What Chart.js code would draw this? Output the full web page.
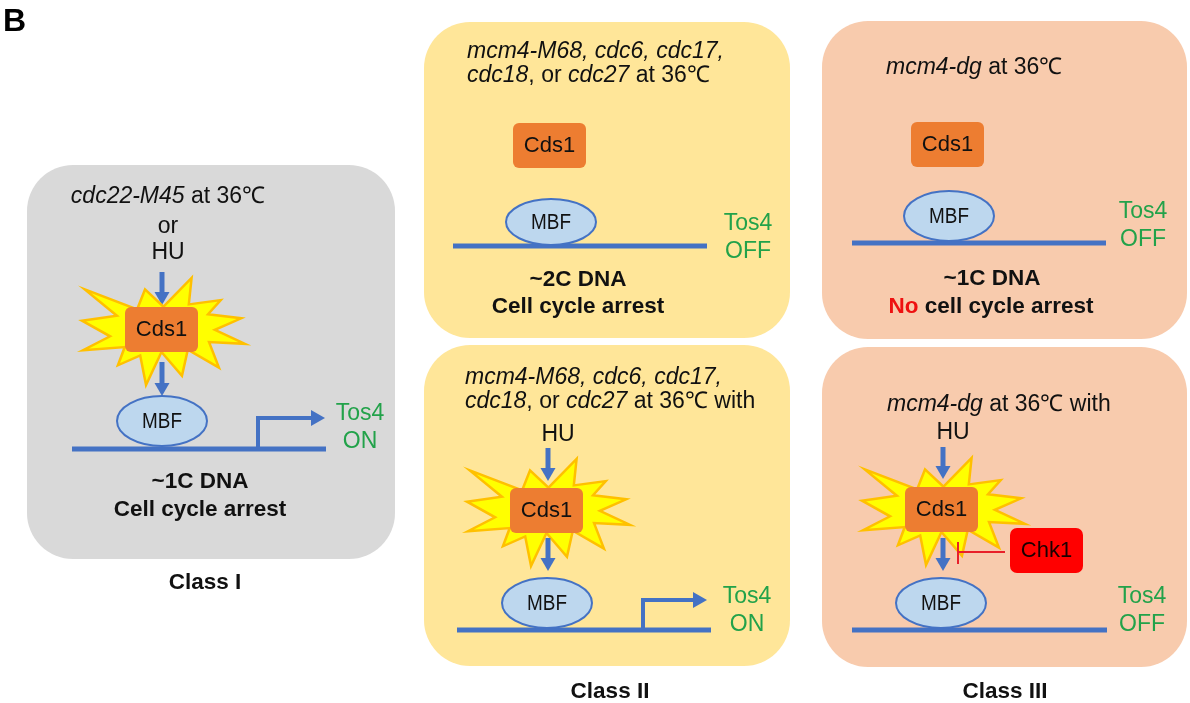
<!DOCTYPE html>
<html>
<head>
<meta charset="utf-8">
<script src="https://cdn.jsdelivr.net/npm/chart.js@4.4.1/dist/chart.umd.min.js"></script>
<style>
  html, body { margin: 0; padding: 0; background: #fff; }
  canvas { display: block; }
</style>
</head>
<body>
<canvas id="diagram" width="1190" height="703"></canvas>
<script>
// content of the figure
const panelLabel = 'B';
const classNames = ['Class I', 'Class II', 'Class III'];
const mutants = [
  [['cdc22-M45', 'i'], [' at 36\u2103', 'n']],
  [['mcm4-M68, cdc6, cdc17,', 'i']],
  [['cdc18', 'i'], [', or ', 'n'], ['cdc27', 'i'], [' at 36\u2103', 'n']],
  [['cdc18', 'i'], [', or ', 'n'], ['cdc27', 'i'], [' at 36\u2103 with', 'n']],
  [['mcm4-dg', 'i'], [' at 36\u2103', 'n']],
  [['mcm4-dg', 'i'], [' at 36\u2103 with', 'n']]
];
const tos4States = ['ON', 'OFF', 'ON', 'OFF', 'OFF'];
const dnaContent = ['~1C DNA', '~2C DNA', '~1C DNA'];
const arrestText = ['Cell cycle arrest', 'Cell cycle arrest', 'cell cycle arrest'];

const FONT = '"Liberation Sans", Arial, sans-serif';
const BLUE = '#4472c4';
const GREEN = '#22a24a';
const TXT = 23;     // condition text
const BOLD = 22.5;  // outcome and class labels

// PowerPoint "explosion 1" outline, in 21600 units
const sealPts = [
  [10800,5800],[14522,0],[14155,5325],[18380,4457],[16702,7315],[21097,8137],
  [17607,10475],[21600,13290],[16837,12942],[18145,18095],[14020,14457],[13247,19737],
  [10532,14935],[8485,21600],[7715,15627],[4762,17617],[5667,13937],[135,14587],
  [3722,11775],[0,8615],[4627,7617],[370,2295],[7312,6320],[8352,2295]
];

const diagramPlugin = {
  id: 'diagram',
  beforeDatasetsDraw(chart) {
    const ctx = chart.ctx;
    const xs = chart.scales.x, ys = chart.scales.y;
    const X = v => xs.getPixelForValue(v);
    const Y = v => ys.getPixelForValue(v);

    function roundRect(x, y, w, h, r, fill) {
      ctx.beginPath();
      ctx.roundRect(X(x), Y(y), X(x + w) - X(x), Y(y + h) - Y(y), r);
      ctx.fillStyle = fill;
      ctx.fill();
    }

    function text(str, x, y, opts) {
      opts = opts || {};
      ctx.font = (opts.bold ? 'bold ' : '') + (opts.size || TXT) + 'px ' + FONT;
      ctx.fillStyle = opts.color || '#111';
      ctx.textAlign = opts.align || 'center';
      ctx.textBaseline = 'middle';
      ctx.fillText(str, X(x), Y(y));
    }

    function runs(parts, x, y, align, size, bold) {
      size = size || TXT;
      const fontOf = p => (p[1] === 'i' ? 'italic ' : '') + (bold ? 'bold ' : '') + size + 'px ' + FONT;
      let total = 0;
      parts.forEach(p => { ctx.font = fontOf(p); total += ctx.measureText(p[0]).width; });
      let cx = align === 'center' ? X(x) - total / 2 : X(x);
      ctx.textAlign = 'left';
      ctx.textBaseline = 'middle';
      parts.forEach(p => {
        ctx.font = fontOf(p);
        ctx.fillStyle = p[2] || '#111';
        ctx.fillText(p[0], cx, Y(y));
        cx += ctx.measureText(p[0]).width;
      });
    }

    function downArrow(x, y1, y2) {
      ctx.strokeStyle = BLUE;
      ctx.fillStyle = BLUE;
      ctx.lineWidth = 5;
      ctx.beginPath();
      ctx.moveTo(X(x), Y(y1));
      ctx.lineTo(X(x), Y(y2 - 11));
      ctx.stroke();
      ctx.beginPath();
      ctx.moveTo(X(x - 7.5), Y(y2 - 13));
      ctx.lineTo(X(x + 7.5), Y(y2 - 13));
      ctx.lineTo(X(x), Y(y2));
      ctx.closePath();
      ctx.fill();
    }

    function burst(bx, by) {
      const x0 = bx - 43, y0 = by - 29, w = 163, h = 107;
      ctx.beginPath();
      sealPts.forEach((p, i) => {
        const px = X(x0 + p[0] / 21600 * w), py = Y(y0 + p[1] / 21600 * h);
        if (i === 0) ctx.moveTo(px, py); else ctx.lineTo(px, py);
      });
      ctx.closePath();
      ctx.fillStyle = '#ffff00';
      ctx.fill();
      ctx.strokeStyle = '#ffc000';
      ctx.lineWidth = 2.5;
      ctx.lineJoin = 'miter';
      ctx.stroke();
    }

    function cds1(bx, by) {
      roundRect(bx, by, 73, 45, 6, '#ed7d31');
      text('Cds1', bx + 36.5, by + 23, { size: 22 });
    }

    function mbf(cx, cy, ry) {
      ctx.beginPath();
      ctx.ellipse(X(cx), Y(cy), X(cx + 45) - X(cx), Y(cy + ry) - Y(cy), 0, 0, Math.PI * 2);
      ctx.fillStyle = '#bdd7ee';
      ctx.fill();
      ctx.strokeStyle = BLUE;
      ctx.lineWidth = 2;
      ctx.stroke();
      // label is a little condensed in the original
      ctx.save();
      ctx.translate(X(cx), Y(cy + 1));
      ctx.scale(0.86, 1);
      ctx.font = '22px ' + FONT;
      ctx.fillStyle = '#111';
      ctx.textAlign = 'center';
      ctx.textBaseline = 'middle';
      ctx.fillText('MBF', 0, 0);
      ctx.restore();
    }

    function dna(x1, x2, y) {
      ctx.strokeStyle = BLUE;
      ctx.lineWidth = 5;
      ctx.lineCap = 'butt';
      ctx.beginPath();
      ctx.moveTo(X(x1), Y(y));
      ctx.lineTo(X(x2), Y(y));
      ctx.stroke();
    }

    function promoter(x, yBase, yTop, xTip) {
      ctx.strokeStyle = BLUE;
      ctx.fillStyle = BLUE;
      ctx.lineWidth = 4;
      ctx.beginPath();
      ctx.moveTo(X(x), Y(yBase));
      ctx.lineTo(X(x), Y(yTop));
      ctx.lineTo(X(xTip - 12), Y(yTop));
      ctx.stroke();
      ctx.beginPath();
      ctx.moveTo(X(xTip - 14), Y(yTop - 8));
      ctx.lineTo(X(xTip), Y(yTop));
      ctx.lineTo(X(xTip - 14), Y(yTop + 8));
      ctx.closePath();
      ctx.fill();
    }

    function tos4(x, y, state) {
      text('Tos4', x, y, { size: 23, color: GREEN });
      text(state, x, y + 28, { size: 23, color: GREEN });
    }

    ctx.save();
    ctx.fillStyle = '#fff';
    ctx.fillRect(0, 0, chart.width, chart.height);

    text(panelLabel, 3, 22, { size: 32, bold: true, align: 'left', color: '#000' });

    // panels
    roundRect(27, 165, 368, 394, 46, '#d9d9d9');
    roundRect(424, 22, 366, 316, 46, '#ffe699');
    roundRect(424, 345, 366, 321, 46, '#ffe699');
    roundRect(822, 21, 365, 318, 46, '#f8cbad');
    roundRect(822, 347, 365, 320, 46, '#f8cbad');

    // Class I
    runs(mutants[0], 168, 197, 'center');
    text('or', 168, 227);
    text('HU', 168, 253);
    downArrow(162, 272, 305);
    burst(125, 307);
    cds1(125, 307);
    downArrow(162, 362, 396);
    dna(72, 326, 449);
    mbf(162, 421, 25);
    promoter(258, 451, 418, 325);
    tos4(360, 414, tos4States[0]);
    text(dnaContent[0], 200, 482, { bold: true, size: BOLD });
    text(arrestText[0], 200, 510, { bold: true, size: BOLD });
    text(classNames[0], 205, 583, { bold: true, size: BOLD });

    // Class II, no HU
    runs(mutants[1], 467, 52, 'left');
    runs(mutants[2], 467, 76, 'left');
    cds1(513, 123);
    dna(453, 707, 246);
    mbf(551, 222, 23);
    tos4(748, 224, tos4States[1]);
    text(dnaContent[1], 578, 280, { bold: true, size: BOLD });
    text(arrestText[1], 578, 307, { bold: true, size: BOLD });

    // Class II, with HU
    runs(mutants[1], 465, 378, 'left');
    runs(mutants[3], 465, 402, 'left');
    text('HU', 558, 435);
    downArrow(548, 448, 481);
    burst(510, 488);
    cds1(510, 488);
    downArrow(548, 538, 571);
    dna(457, 711, 630);
    mbf(547, 603, 25);
    promoter(643, 632, 600, 707);
    tos4(747, 597, tos4States[2]);
    text(classNames[1], 610, 692, { bold: true, size: BOLD });

    // Class III, no HU
    runs(mutants[4], 886, 68, 'left');
    cds1(911, 122);
    dna(852, 1106, 243);
    mbf(949, 216, 25);
    tos4(1143, 212, tos4States[3]);
    text(dnaContent[2], 992, 279, { bold: true, size: BOLD });
    runs([['No', 'n', '#ee1111'], [' ' + arrestText[2], 'n']], 991, 307, 'center', BOLD, true);

    // Class III, with HU
    runs(mutants[5], 887, 405, 'left');
    text('HU', 953, 433);
    downArrow(943, 447, 479);
    burst(905, 487);
    cds1(905, 487);
    downArrow(943, 538, 571);
    ctx.strokeStyle = '#e8202a';
    ctx.lineWidth = 2;
    ctx.beginPath();
    ctx.moveTo(X(958), Y(552)); ctx.lineTo(X(1005), Y(552));
    ctx.moveTo(X(958), Y(542)); ctx.lineTo(X(958), Y(564));
    ctx.stroke();
    roundRect(1010, 528, 73, 45, 7, '#ff0000');
    text('Chk1', 1046.5, 551, { size: 22, color: '#1a0000' });
    dna(852, 1107, 630);
    mbf(941, 603, 25);
    tos4(1142, 597, tos4States[4]);
    text(classNames[2], 1005, 692, { bold: true, size: BOLD });

    ctx.restore();
  }
};

new Chart(document.getElementById('diagram').getContext('2d'), {
  type: 'scatter',
  data: { datasets: [{ data: [], pointRadius: 0 }] },
  options: {
    responsive: false,
    animation: false,
    devicePixelRatio: 1,
    layout: { padding: 0 },
    plugins: { legend: { display: false }, tooltip: { enabled: false } },
    scales: {
      x: { type: 'linear', min: 0, max: 1190, display: false },
      y: { type: 'linear', min: 0, max: 703, reverse: true, display: false }
    }
  },
  plugins: [diagramPlugin]
});
</script>
</body>
</html>
